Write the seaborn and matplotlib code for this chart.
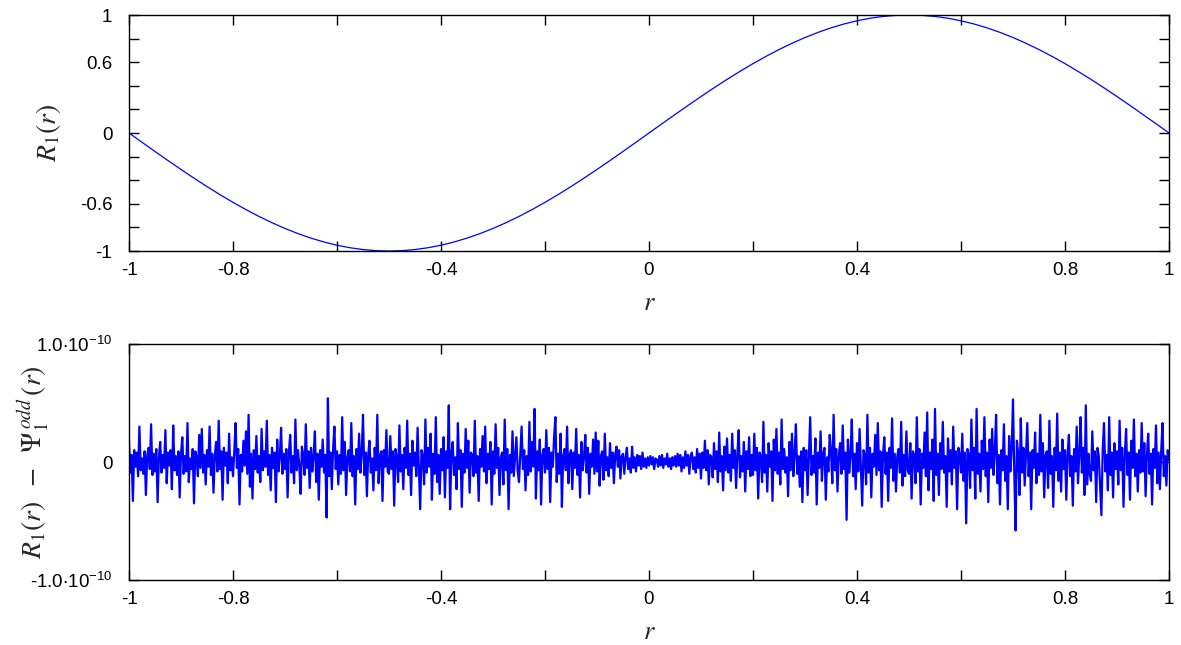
import numpy as np
import pandas as pd
import matplotlib
matplotlib.use("Agg")
import matplotlib.pyplot as plt
import matplotlib.ticker as mtick
import seaborn as sns

# --- data ---
# top panel: R_1(r), sampled every 0.025
r_top = [round(-1 + 0.025 * i, 3) for i in range(81)]
R1 = [0.0, -0.0785, -0.1564, -0.2334, -0.3090, -0.3827, -0.4540, -0.5225, -0.5878, -0.6494,
      -0.7071, -0.7604, -0.8090, -0.8526, -0.8910, -0.9239, -0.9511, -0.9724, -0.9877, -0.9969,
      -1.0, -0.9969, -0.9877, -0.9724, -0.9511, -0.9239, -0.8910, -0.8526, -0.8090, -0.7604,
      -0.7071, -0.6494, -0.5878, -0.5225, -0.4540, -0.3827, -0.3090, -0.2334, -0.1564, -0.0785,
      0.0, 0.0785, 0.1564, 0.2334, 0.3090, 0.3827, 0.4540, 0.5225, 0.5878, 0.6494,
      0.7071, 0.7604, 0.8090, 0.8526, 0.8910, 0.9239, 0.9511, 0.9724, 0.9877, 0.9969,
      1.0, 0.9969, 0.9877, 0.9724, 0.9511, 0.9239, 0.8910, 0.8526, 0.8090, 0.7604,
      0.7071, 0.6494, 0.5878, 0.5225, 0.4540, 0.3827, 0.3090, 0.2334, 0.1564, 0.0785,
      0.0]

# bottom panel: residual R_1 - Psi_1^odd, in units of 1e-12, every 0.0025 in r
resid_e12 = [
    18, -9, 6, -33, 10, -4, 8, -12, 30, -7, 3, -10, 9, -28, 5, 12, -6, 32, -11, 7,
    -8, 11, -34, 4, 17, -9, 6, -5, 27, -18, 8, -3, 10, -23, 31, -7, 5, -11, 9, -30,
    7, 21, -10, 5, -8, 33, -17, 3, -6, 11, -35, 9, 4, -12, 23, -5, 28, -9, 6, -19,
    10, -4, 30, -11, 7, -26, 5, 17, -8, 35, -6, 9, -32, 12, -3, 8, -18, 24, -7, 4,
    -12, 9, 33, -5, 11, -36, 6, -8, 18, -3, 26, -10, 40, -21, 7, -31, 10, -6, 22, -9,
    5, -17, 28, -7, 9, -4, 35, -11, 6, -24, 12, -5, 8, -34, 19, -8, 4, 29, -10, 7,
    -6, 11, -30, 8, 23, -9, 5, -18, 36, -7, 10, -3, -27, 13, 6, -11, 32, -5, 9, -22,
    12, -8, 5, 26, -17, 7, -32, 10, -4, 19, -9, 6, -47, 54, -12, 8, -23, 11, 30, -6,
    9, -19, 6, -10, 38, -7, 17, -28, 4, 10, -8, 33, -12, 5, -36, 11, -6, 24, -9, 7,
    40, -11, 8, -29, 6, 18, -9, 3, -24, 12, -7, 40, -18, 5, 9, -33, 10, -4, 27, -8,
    -10, 22, -6, 9, -37, 11, 4, -17, 31, -8, 6, -23, 12, -5, 35, -11, 7, -28, 18, -3,
    8, -12, 29, -6, -40, 10, 5, -19, 36, -9, 12, -4, 24, -32, 7, -10, 38, -17, 6, -27,
    11, -7, 21, -30, 9, -5, 48, -40, 8, 17, -11, 4, -23, 33, -6, 10, -38, 7, -9, 28,
    -5, 18, -26, 8, 6, -12, 35, -9, 5, -33, 11, -4, 22, -8, 30, -18, 7, -6, 17, -36,
    9, -10, 32, -5, 12, -28, 4, 8, -19, 36, -7, 11, -40, 6, -9, 26, -12, 5, 21, -8,
    -17, 7, 30, -6, 10, -24, 5, -11, 34, -8, 17, -4, 45, -31, 9, -7, 19, -36, 6, 11,
    -9, 27, -6, 12, -34, 8, -4, 21, 38, -17, 7, -10, 24, -38, 5, 11, -7, 30, -18, 6,
    10, -23, 8, -5, 28, -11, 6, -30, 17, -7, 4, 23, -9, 12, -27, 7, -4, 19, -10, 25,
    -8, 18, -20, 5, 9, -15, 24, -7, 4, -12, 16, -5, 8, -18, 6, 13, -4, 10, -14, 5,
    7, -10, 4, 12, -6, 3, -9, 13, -5, 4, -8, 6, -3, 5, -6, 8, -4, 3, -5, 4,
    -3, 5, -2, 4, -6, 3, 2, -4, 5, -3, 6, -5, 3, -2, 7, -4, 3, -6, 4, -3,
    5, -4, 7, -3, 6, -8, 4, -5, 9, -3, 6, -10, 5, 8, -6, 4, -9, 11, -5, 7,
    -14, 8, -5, 18, -7, 10, -19, 6, 4, -13, 16, -6, 9, -17, 25, -8, 5, -24, 13, -7,
    20, -9, 6, -16, 24, -5, 10, -22, 7, 27, -13, 5, -8, 17, -25, 9, -6, 21, -12, 6,
    -11, 24, -7, 12, -31, 8, 5, -17, 34, -9, 6, -25, 16, -4, 9, -33, 19, -7, 28, -10,
    8, -19, 36, -6, 11, -9, 4, -29, 17, -7, 24, -12, 6, 32, -10, 5, -21, 9, -34, 12,
    -7, 10, -28, 6, 38, -11, 5, -9, 20, -36, 8, -5, 26, -16, 7, 12, -32, 4, -8, 23,
    9, -18, 40, -7, 11, -25, 6, 16, -10, 31, -6, 8, -49, 19, -9, 5, 36, -12, 7, -23,
    16, -8, 28, -5, -37, 10, 6, -19, 40, -9, 12, -30, 7, -4, 23, -11, 33, -7, 9, -38,
    6, 21, -10, 8, -33, 12, -5, 37, -16, 7, -25, 5, 11, -9, 34, -20, 6, -12, 26, -7,
    -10, 16, -31, 9, 6, -18, 38, -8, 11, -36, 7, -5, 25, -12, 42, -24, 8, -6, 19, -33,
    45, -11, 7, -28, 16, -6, 34, -9, 5, -38, 20, -8, 10, -19, 30, -5, 9, -40, 12, 6,
    -9, 24, -16, 8, -52, 11, 6, -22, 36, -7, 12, -31, 45, -10, 7, -25, 18, -6, 38, -12,
    8, -34, 19, -5, 28, -11, 9, 40, -18, 6, -36, 10, -7, 32, -16, 5, -40, 22, -8, 11,
    53, -10, -58, 18, 7, -28, 37, -9, 12, -20, 6, 33, -12, 8, -40, 10, -5, 25, -18, 7,
    -11, 40, -8, 16, -30, 6, 9, -22, 35, -10, 5, -38, 12, -7, 41, -16, 8, -25, 19, -6,
    10, -32, 7, 23, -12, 5, -37, 11, -8, 30, -18, 6, 38, -9, 12, -28, 48, -19, 7, -10,
    -16, 26, -7, 9, -34, 12, 5, -20, -45, 10, 33, -8, 6, -24, 38, -11, 8, -30, 16, -6,
    9, -19, 35, -7, 12, -38, 6, 28, -11, 8, -32, 18, -5, 36, -12, 7, -25, 10, -9, 33,
    -8, 16, -29, 6, 24, -10, 7, -36, 11, -5, 31, -18, 8, -23, 9, 33, -12, 5, -20, 10,
    2,
]
r_bot = np.linspace(-1, 1, len(resid_e12))

x_ticks = [-1, -0.8, -0.6, -0.4, -0.2, 0, 0.2, 0.4, 0.6, 0.8, 1]
x_labels = ["-1", "-0.8", "", "-0.4", "", "0", "", "0.4", "", "0.8", "1"]
y_top_ticks = [-1, -0.8, -0.6, -0.4, -0.2, 0, 0.2, 0.4, 0.6, 0.8, 1]
y_top_labels = ["-1", "", "-0.6", "", "", "0", "", "", "0.6", "", "1"]
y_bot_ticks = [-1e-10, 0, 1e-10]
y_bot_labels = [r"-1.0$\cdot$10$^{\mathregular{-10}}$", "0",
                r"1.0$\cdot$10$^{\mathregular{-10}}$"]

df_top = pd.DataFrame({"r": r_top, "R1": R1})
df_bot = pd.DataFrame({"r": r_bot, "resid": np.array(resid_e12) * 1e-12})

sns.set_style("ticks")
plt.rcParams["font.family"] = ["Liberation Sans", "DejaVu Sans"]
plt.rcParams["mathtext.fontset"] = "stix"
plt.rcParams["axes.unicode_minus"] = False

fig = plt.figure(figsize=(11.81, 6.45), dpi=100)
ax1 = fig.add_axes([129 / 1181, 1 - 251 / 645, 1040 / 1181, 236 / 645])
ax2 = fig.add_axes([129 / 1181, 1 - 580 / 645, 1040 / 1181, 236 / 645])

sns.lineplot(data=df_top, x="r", y="R1", ax=ax1, color="#0000ff", lw=0.9,
             estimator=None, sort=False)
sns.lineplot(data=df_bot, x="r", y="resid", ax=ax2, color="#0000ff", lw=1.6,
             estimator=None, sort=False)

for ax in (ax1, ax2):
    ax.set_xlim(-1, 1)
    ax.xaxis.set_major_locator(mtick.FixedLocator(x_ticks))
    ax.set_xticklabels(x_labels)
    ax.tick_params(direction="in", length=7.5, width=1, top=True, right=True,
                   labelsize=13.5, colors="black")
    ax.tick_params(axis="x", pad=8)
    ax.tick_params(axis="y", pad=12)
    for sp in ax.spines.values():
        sp.set_color("black")
        sp.set_linewidth(1)
    ax.set_xlabel(r"$r$", fontsize=19)
    ax.xaxis.set_label_coords(0.5, -0.17)

ax1.set_ylim(-1, 1)
ax1.yaxis.set_major_locator(mtick.FixedLocator(y_top_ticks))
ax1.set_yticklabels(y_top_labels)
ax1.set_ylabel(r"$R_1(r)$", fontsize=20)
ax1.yaxis.set_label_coords(-0.063, 0.5)

ax2.set_ylim(-1e-10, 1e-10)
ax2.yaxis.set_major_locator(mtick.FixedLocator(y_bot_ticks))
ax2.set_yticklabels(y_bot_labels)
ax2.yaxis.get_offset_text().set_visible(False)
ax2.set_ylabel(r"$R_1(r)\;\;-\;\;\Psi_1^{\,odd}\,(r)$", fontsize=20)
ax2.yaxis.set_label_coords(-0.074, 0.5)

fig.savefig("out.png", dpi=100)
